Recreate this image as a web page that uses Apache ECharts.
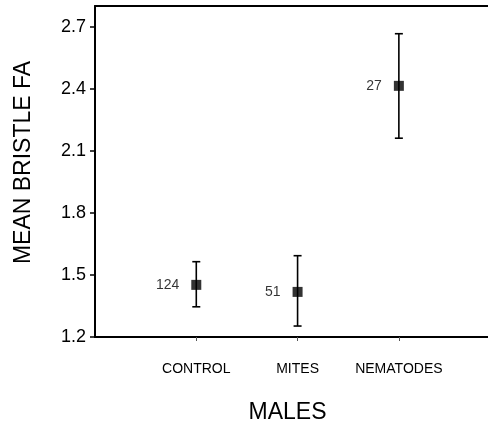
<!DOCTYPE html>
<html>
<head>
<meta charset="utf-8">
<script src="https://cdn.jsdelivr.net/npm/echarts@6/dist/echarts.min.js"></script>
<style>
  html, body { margin: 0; padding: 0; background: #fff; }
  #chart { width: 488px; height: 427px; }
</style>
</head>
<body>
<div id="chart"></div>
<script>
// groups on the x axis (placed at 1, 2, 3)
const categories = ['CONTROL', 'MITES', 'NEMATODES'];
// mean bristle FA and error bar ends
const means = [1.452, 1.418, 2.414];
const lows = [1.346, 1.253, 2.161];
const highs = [1.564, 1.593, 2.666];
// sample sizes written beside the points
const sampleSizes = ['124', '51', '27'];
const yTicks = [1.2, 1.5, 1.8, 2.1, 2.4, 2.7];

const font = 'Liberation Sans, Arial, Helvetica, sans-serif';
const myChart = echarts.init(document.getElementById('chart'));

const pointData = means.map((m, i) => [i + 1, m, sampleSizes[i]]);
const barData = means.map((m, i) => [i + 1, lows[i], highs[i]]);

const option = {
  animation: false,
  backgroundColor: '#fff',
  grid: { left: 95, right: 0, top: 6, bottom: 90, outerBoundsMode: 'none' },
  xAxis: [{
    type: 'value',
    min: 0,
    max: 3.88,
    splitLine: { show: false },
    axisLine: { lineStyle: { color: '#000', width: 2 } },
    axisTick: { customValues: [1, 2, 3], length: 4, lineStyle: { color: '#555', width: 1 } },
    axisLabel: {
      customValues: [1, 2, 3],
      formatter: v => categories[Math.round(v) - 1] || '',
      color: '#000', fontFamily: font, fontSize: 14, margin: 25
    },
    name: 'MALES',
    nameLocation: 'middle',
    nameGap: 64,
    nameTextStyle: { color: '#000', fontFamily: font, fontSize: 23, padding: [0, 8, 0, 0] }
  }, {
    type: 'value',
    position: 'top',
    min: 0,
    max: 3.88,
    splitLine: { show: false },
    axisLine: { show: true, lineStyle: { color: '#000', width: 2 } },
    axisTick: { show: false },
    axisLabel: { show: false }
  }],
  yAxis: {
    type: 'value',
    min: 1.2,
    max: 2.8,
    splitLine: { show: false },
    axisLine: { show: true, lineStyle: { color: '#000', width: 2 } },
    axisTick: { show: true, customValues: yTicks, length: 5, lineStyle: { color: '#000', width: 1.5 } },
    axisLabel: {
      customValues: yTicks,
      formatter: v => v.toFixed(1),
      color: '#000', fontFamily: font, fontSize: 18, margin: 9
    },
    name: 'MEAN BRISTLE FA',
    nameLocation: 'middle',
    nameGap: 60,
    nameTextStyle: { color: '#000', fontFamily: font, fontSize: 23, padding: [0, 0, 0, 18] }
  },
  series: [{
    type: 'custom',
    data: barData,
    renderItem: (params, api) => {
      const x = api.value(0);
      const lo = api.coord([x, api.value(1)]);
      const hi = api.coord([x, api.value(2)]);
      const cap = 4;
      const style = { stroke: '#000', lineWidth: 1.6 };
      return {
        type: 'group',
        children: [
          { type: 'line', shape: { x1: lo[0], y1: lo[1], x2: hi[0], y2: hi[1] }, style },
          { type: 'line', shape: { x1: lo[0] - cap, y1: lo[1], x2: lo[0] + cap, y2: lo[1] }, style },
          { type: 'line', shape: { x1: hi[0] - cap, y1: hi[1], x2: hi[0] + cap, y2: hi[1] }, style }
        ]
      };
    },
    z: 2
  }, {
    type: 'scatter',
    data: pointData,
    symbol: 'rect',
    symbolSize: 10,
    itemStyle: { color: '#000' },
    label: {
      show: true,
      position: 'left',
      distance: 12,
      formatter: p => p.value[2],
      color: '#000',
      fontFamily: font,
      fontSize: 14
    },
    z: 3
  }]
};

myChart.setOption(option);
window.addEventListener('resize', () => myChart.resize());
</script>
</body>
</html>
